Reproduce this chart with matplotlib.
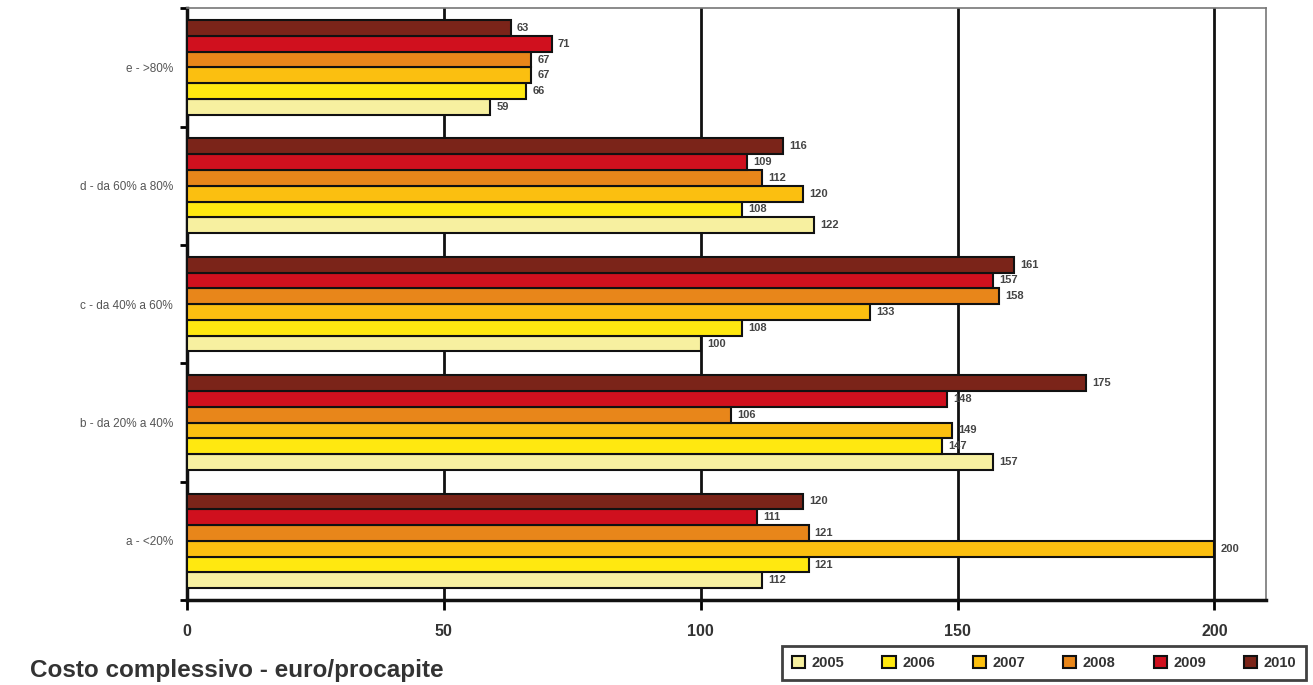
import numpy as np
import matplotlib.pyplot as plt
from matplotlib.patches import Patch

plt.rcParams['font.family'] = ['Liberation Sans', 'DejaVu Sans']

groups = ["a - <20%", "b - da 20% a 40%", "c - da 40% a 60%",
          "d - da 60% a 80%", "e - >80%"]
years = ["2005", "2006", "2007", "2008", "2009", "2010"]

v2005 = [112, 157, 100, 122, 59]
v2006 = [121, 147, 108, 108, 66]
v2007 = [200, 149, 133, 120, 67]
v2008 = [121, 106, 158, 112, 67]
v2009 = [111, 148, 157, 109, 71]
v2010 = [120, 175, 161, 116, 63]

colors = ["#f7f0a0", "#ffe810", "#fbbf10", "#e8861a", "#d0101e", "#7b2419"]

series = [v2005, v2006, v2007, v2008, v2009, v2010]

fig = plt.figure(figsize=(13.13, 6.85), dpi=100)
ax = fig.add_axes([0.1424, 0.124, 0.8216, 0.864])

h = 0.8 / 6
y0 = np.arange(len(groups))
for j, vals in enumerate(series):
    y = y0 - 0.4 + h * (j + 0.5)
    ax.barh(y, vals, height=h, color=colors[j], edgecolor="#111111",
            linewidth=1.5, zorder=3)
    for yy, v in zip(y, vals):
        ax.text(v + 1.2, yy, str(v), va="center", ha="left", fontsize=8,
                fontweight="bold", color="#444444", zorder=4)

ax.set_xlim(0, 210)
ax.set_ylim(-0.5, 4.5)

for gx in [50, 100, 150, 200]:
    ax.axvline(gx, color="#111111", lw=2, zorder=1)

ax.set_xticks([0, 50, 100, 150, 200])
ax.set_xticklabels(["0", "50", "100", "150", "200"], fontsize=11.5,
                   fontweight="bold", color="#333333")
ax.tick_params(axis="x", direction="out", length=7, width=2, pad=10)

ax.set_yticks(np.arange(-0.5, 4.6, 1.0))
ax.set_yticklabels([])
ax.set_yticks(y0, minor=True)
ax.set_yticklabels(groups, minor=True, fontsize=8.5, color="#555555")
ax.tick_params(axis="y", which="major", direction="out", length=5, width=2)
ax.tick_params(axis="y", which="minor", length=0, pad=10)

ax.spines["left"].set_linewidth(2.5)
ax.spines["bottom"].set_linewidth(2.5)
ax.spines["left"].set_color("#111111")
ax.spines["bottom"].set_color("#111111")
ax.spines["top"].set_linewidth(1.2)
ax.spines["right"].set_linewidth(1.2)
ax.spines["top"].set_color("#777777")
ax.spines["right"].set_color("#777777")

fig.text(0.023, 0.004, "Costo complessivo - euro/procapite", fontsize=17.5,
         fontweight="bold", color="#333333", ha="left", va="bottom")

handles = [Patch(facecolor=c, edgecolor="#111111", linewidth=1.5) for c in colors]
leg = fig.legend(handles, years, loc="lower right", ncol=6,
                 bbox_to_anchor=(0.995, 0.007), frameon=True, fancybox=False,
                 handlelength=0.9, handleheight=0.9, handletextpad=0.45,
                 columnspacing=2.6, borderpad=0.7, borderaxespad=0,
                 prop={"size": 10.5, "weight": "bold"})
leg.get_frame().set_edgecolor("#111111")
leg.get_frame().set_linewidth(2)
for t in leg.get_texts():
    t.set_color("#333333")

fig.savefig("out.png", dpi=100)
